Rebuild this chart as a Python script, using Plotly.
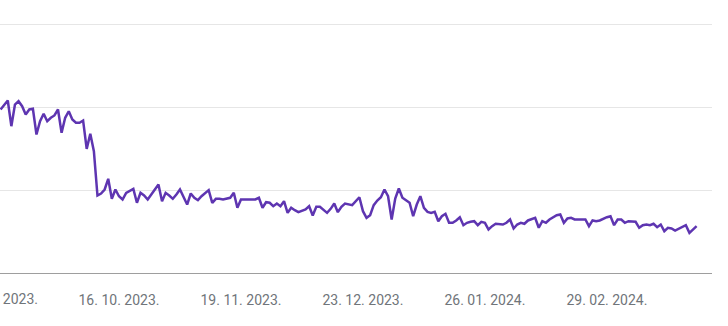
import pandas as pd
import plotly.graph_objects as go

start_date = "2023-09-13"
day_offsets = [0, 2, 3, 4, 5, 6, 7, 8, 9, 10, 11, 12, 13, 14, 15, 16, 17, 18, 19, 20,
               21, 22, 23, 24, 25, 26, 27, 28, 29, 30, 31, 32, 33, 34, 35, 37, 38, 39, 40, 41,
               42, 44, 45, 46, 47, 48, 49, 50, 52, 53, 54, 55, 56, 58, 59, 60, 61, 62, 64, 65,
               66, 67, 68, 70, 71, 72, 73, 74, 75, 76, 77, 78, 79, 80, 81, 82, 83, 85, 86, 87,
               88, 89, 91, 92, 93, 94, 95, 96, 97, 98, 100, 101, 102, 103, 104, 105, 106, 107, 108, 109,
               110, 111, 112, 113, 114, 115, 116, 117, 118, 119, 120, 121, 122, 123, 124, 125, 126, 127, 128, 129,
               130, 131, 132, 133, 134, 135, 136, 137, 138, 140, 141, 142, 143, 144, 145, 146, 147, 149, 150, 151,
               152, 153, 154, 155, 156, 157, 158, 159, 160, 162, 163, 164, 165, 166, 167, 169, 170, 171, 172, 173,
               174, 175, 176, 177, 178, 179, 180, 181, 182, 183, 184, 185, 186, 187, 188, 189, 191, 192, 193, 194]
values = [19.70, 20.78, 17.69, 20.30, 20.70, 20.10, 19.10, 19.70, 19.78, 16.69, 18.29, 19.18, 18.29, 18.70, 18.98, 19.70, 16.89, 18.70, 19.49, 18.49,
          18.10, 18.10, 18.37, 14.96, 16.77, 14.67, 9.34, 9.58, 10.06, 11.35, 8.94, 10.06, 9.25, 8.86, 9.66, 10.14, 8.46, 9.66, 9.34, 8.86,
          9.46, 10.66, 8.65, 9.66, 9.34, 8.94, 9.46, 10.06, 8.25, 9.58, 9.06, 8.77, 9.25, 9.98, 8.46, 8.94, 8.94, 8.86, 9.06, 9.66,
          7.86, 8.86, 8.86, 8.86, 8.86, 9.06, 7.86, 8.53, 8.46, 8.05, 8.37, 8.05, 8.65, 7.25, 7.86, 7.57, 7.33, 7.65, 8.05, 6.93,
          7.98, 7.98, 7.25, 7.73, 8.37, 7.33, 7.98, 8.37, 8.25, 8.17, 9.13, 7.45, 6.65, 6.96, 8.17, 8.73, 9.13, 10.06, 9.25, 6.45,
          8.98, 10.18, 9.06, 8.73, 8.46, 6.84, 8.25, 9.25, 7.86, 7.37, 7.25, 7.37, 6.24, 6.84, 7.13, 6.05, 6.05, 6.33, 6.72, 5.76,
          6.05, 6.17, 6.24, 5.76, 6.17, 6.05, 5.24, 5.64, 5.93, 5.84, 6.05, 6.45, 5.36, 5.84, 6.05, 5.93, 6.33, 6.65, 5.45, 6.24,
          6.05, 6.45, 6.72, 6.96, 7.05, 6.05, 6.57, 6.65, 6.45, 6.45, 6.45, 5.64, 6.33, 6.24, 6.33, 6.72, 6.84, 5.76, 6.45, 6.45,
          6.05, 6.24, 6.17, 6.17, 5.45, 5.76, 5.84, 5.76, 5.93, 5.52, 5.84, 5.04, 5.45, 5.36, 5.12, 5.36, 5.76, 4.84, 5.24, 5.64]

tick_dates = ["2023-09-12", "2023-10-16", "2023-11-19", "2023-12-23", "2024-01-26", "2024-02-29"]
tick_labels = ["12. 09. 2023.", "16. 10. 2023.", "19. 11. 2023.", "23. 12. 2023.", "26. 01. 2024.", "29. 02. 2024."]
y_grid = [0, 10, 20, 30]

x_range = [pd.Timestamp("2023-09-12 20:00"), pd.Timestamp("2024-03-29 07:00")]
y_range = [0, 32.05]

dates = pd.Timestamp(start_date) + pd.to_timedelta(day_offsets, unit="D")

LINE = "#5e35b1"
TEXT = "#70757a"
FONT = "Roboto"

fig = go.Figure()
fig.add_trace(go.Scatter(x=dates, y=values, mode="lines",
                         line=dict(color=LINE, width=2.5), hoverinfo="skip"))

# first tick lies just outside the visible range; draw its label as text
span = (x_range[1] - x_range[0])
first_frac = (pd.Timestamp(tick_dates[0]) - x_range[0]) / span

fig.add_annotation(x=first_frac, xref="paper", xanchor="center",
                   y=0, yref="paper", yanchor="top",
                   yshift=-16, text=tick_labels[0], showarrow=False,
                   font=dict(family=FONT, size=14, color=TEXT))

fig.update_layout(
    width=728, height=326,
    margin=dict(l=0, r=16, t=7, b=53),
    paper_bgcolor="white", plot_bgcolor="white",
    showlegend=False,
    font=dict(family=FONT, size=14, color=TEXT),
    xaxis=dict(range=x_range, tickvals=tick_dates[1:], ticktext=tick_labels[1:],
               showgrid=False, showline=True, linecolor="#9e9e9e", linewidth=1,
               ticks="", zeroline=False, ticklabelstandoff=14,
               tickfont=dict(family=FONT, size=14, color=TEXT)),
    yaxis=dict(range=y_range, tickvals=y_grid, showticklabels=False,
               showgrid=True, gridcolor="#e6e6e6", gridwidth=1,
               zeroline=False, showline=False, ticks=""),
)

fig.write_html("out.html")
